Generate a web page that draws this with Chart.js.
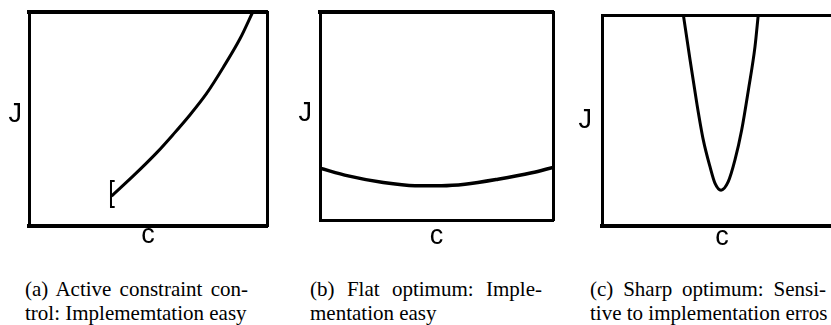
<!DOCTYPE html>
<html>
<head>
<meta charset="utf-8">
<script src="https://cdn.jsdelivr.net/npm/chart.js@4/dist/chart.umd.min.js"></script>
<style>
  html, body { margin: 0; padding: 0; background: #fff; }
  body { width: 831px; height: 325px; overflow: hidden; position: relative; }
  canvas { position: absolute; top: 0; }
  .cap { position: absolute; font-family: "Liberation Serif", "Times New Roman", serif; font-size: 21px; line-height: 24px; color: #000; white-space: nowrap; }
  .l1 { text-align: justify; text-align-last: justify; }
</style>
</head>
<body>
<canvas id="ca" width="280" height="260" style="left:0px"></canvas>
<canvas id="cb" width="280" height="260" style="left:280px"></canvas>
<canvas id="cc" width="300" height="260" style="left:560px"></canvas>

<div class="cap" style="left:25px; top:277px; width:223px;">
  <div class="l1" id="capA1"></div><div id="capA2"></div>
</div>
<div class="cap" style="left:310px; top:277px; width:232px;">
  <div class="l1" id="capB1"></div><div id="capB2"></div>
</div>
<div class="cap" style="left:590px; top:277px; width:236px;">
  <div class="l1" id="capC1"></div><div id="capC2"></div>
</div>

<script>
// ---- data (axes are unitless 0..100) ----
const xLabel = 'c';
const yLabel = 'J';

// (a) Active constraint: cost rises from the constraint boundary
const activeX = [34.7, 43.8, 53.7, 60.6, 67.6, 74.7, 81.6, 88.7, 94.0];
const activeY = [14.0, 23.4, 34.3, 42.8, 51.9, 62.1, 74.1, 87.6, 100];
// constraint bracket "[" at the left end
const bracketX = [36.0, 34.45, 34.45, 36.0];
const bracketY = [21.0, 21.0, 8.9, 8.9];

// (b) Flat optimum
const flatX = [0, 12.1, 26.5, 40.8, 52.2, 62.2, 76.4, 90.9, 100];
const flatY = [24.9, 21.2, 18.1, 16.5, 16.5, 17.2, 19.6, 22.7, 25.3];

// (c) Sharp optimum
const sharpX = [33.9, 36.7, 39.5, 42.2, 45.0, 47.1, 49.6, 52.6, 55.4, 58.2, 61.0, 63.75, 65.1];
const sharpY = [100, 78.7, 58.2, 40.8, 28.1, 20.2, 17.0, 21.0, 31.3, 45.5, 64.5, 85.0, 100];

const captions = [
  ['(a) Active constraint con-', 'trol: Implememtation easy'],
  ['(b) Flat optimum: Imple-', 'mentation easy'],
  ['(c) Sharp optimum: Sensi-', 'tive to implementation erros']
];

// ---- helpers ----
const pts = (xs, ys) => xs.map((x, i) => ({ x: x, y: ys[i] }));
const sansFont = { family: "'Liberation Sans', Arial, sans-serif", size: 27 };

function makeChart(id, datasets, cfg) {
  const hidden = { display: false };
  const noGrid = { display: false, drawTicks: false };
  return new Chart(document.getElementById(id), {
    type: 'line',
    data: { datasets: datasets },
    options: {
      responsive: false,
      animation: false,
      devicePixelRatio: 1,
      layout: { padding: 0 },
      plugins: { legend: hidden, tooltip: { enabled: false } },
      elements: { point: { radius: 0 } },
      scales: {
        x: {
          type: 'linear', position: 'bottom', min: 0, max: 100,
          ticks: hidden, grid: noGrid,
          border: { display: true, width: cfg.bBottom, color: '#000' },
          title: { display: true, text: xLabel, color: '#000', font: sansFont,
                   padding: { top: 0, bottom: cfg.cPad } },
          afterFit: s => { s.height = cfg.bottom; }
        },
        y: {
          type: 'linear', position: 'left', min: 0, max: 100,
          afterBuildTicks: s => { s.ticks = [{ value: cfg.jAt }]; },
          ticks: { callback: () => yLabel, color: '#000', font: sansFont, padding: cfg.jPad },
          grid: noGrid,
          border: { display: true, width: cfg.bLeft, color: '#000' },
          afterFit: s => { s.width = cfg.left; s.paddingTop = 0; s.paddingBottom = 0; }
        },
        x2: {
          type: 'linear', position: 'top', min: 0, max: 100,
          ticks: hidden, grid: noGrid,
          border: { display: true, width: cfg.bTop, color: '#000' },
          afterFit: s => { s.height = cfg.top; }
        },
        y2: {
          type: 'linear', position: 'right', min: 0, max: 100,
          ticks: hidden, grid: noGrid,
          border: { display: true, width: cfg.bRight, color: '#000' },
          afterFit: s => { s.width = cfg.right; }
        }
      }
    }
  });
}

const lineStyle = { borderColor: '#000', borderWidth: 3, fill: false, cubicInterpolationMode: 'monotone', pointRadius: 0 };

makeChart('ca', [
  Object.assign({ data: pts(activeX, activeY) }, lineStyle),
  { data: pts(bracketX, bracketY), borderColor: '#000', borderWidth: 2, tension: 0, pointRadius: 0, fill: false }
], { left: 29, right: 13, top: 12, bottom: 34, bTop: 4, bBottom: 4, bLeft: 3, bRight: 3, jAt: 52, jPad: 7, cPad: 8 });

makeChart('cb', [
  Object.assign({ data: pts(flatX, flatY) }, lineStyle, { borderWidth: 3.5 })
], { left: 40, right: 7, top: 12, bottom: 40, bTop: 4, bBottom: 3, bLeft: 3, bRight: 3, jAt: 51, jPad: 8, cPad: 7 });

makeChart('cc', [
  Object.assign({ data: pts(sharpX, sharpY) }, lineStyle)
], { left: 42, right: 18, top: 15, bottom: 34, bTop: 3, bBottom: 4, bLeft: 3, bRight: 3, jAt: 50, jPad: 10, cPad: 6 });

// captions
document.getElementById('capA1').textContent = captions[0][0];
document.getElementById('capA2').textContent = captions[0][1];
document.getElementById('capB1').textContent = captions[1][0];
document.getElementById('capB2').textContent = captions[1][1];
document.getElementById('capC1').textContent = captions[2][0];
document.getElementById('capC2').textContent = captions[2][1];
</script>
</body>
</html>
